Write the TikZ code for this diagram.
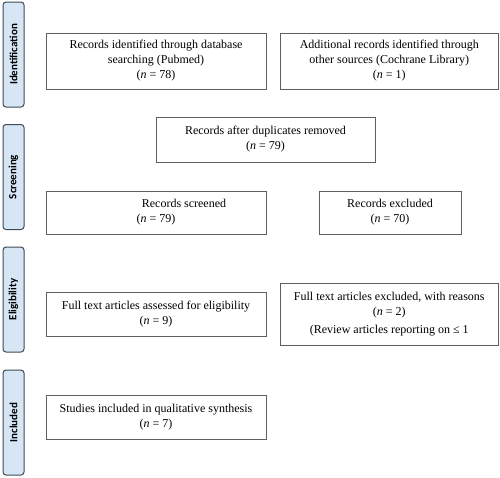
\documentclass[tikz,border=0pt]{standalone}
\usepackage{fontspec}
\setmainfont{Liberation Serif}
\newfontfamily\stagefont{Carlito}
\tikzset{every picture/.style={line width=0.75pt}}
\definecolor{stageblue}{RGB}{214,230,245}
\definecolor{stageline}{RGB}{62,74,88}
\definecolor{boxline}{RGB}{95,95,95}

\begin{document}
\begin{tikzpicture}[x=1pt,y=1pt,yscale=-1,xscale=1,
  box/.style={draw=boxline, line width=0.9pt, align=center, inner sep=0pt, font=\fontsize{12}{15}\selectfont},
  stage/.style={draw=stageline, fill=stageblue, rounded corners=3pt, line width=1pt, inner sep=0pt, minimum width=105pt, minimum height=21pt, rotate=90, font=\stagefont\bfseries\fontsize{11}{13}\selectfont}]
\useasboundingbox (0,0) rectangle (500,477);

%Shape: Stages on the left
\node [stage] (ident) at (13.5,54.5) {Identification};
\node [stage] (screen) at (13.5,177) {Screening};
\node [stage] (elig) at (13.5,299.5) {Eligibility};
\node [stage] (incl) at (13.5,422.5) {Included};

%Shape: Identification boxes
\node [box, minimum width=220pt, minimum height=56pt] (dbsearch) at (156,61) {Records identified through database\\searching (Pubmed)\\(\textit{n} = 78)};
\node [box, minimum width=218.5pt, minimum height=56pt] (othersrc) at (389.25,61) {Additional records identified through\\other sources (Cochrane Library)\\(\textit{n} = 1)};

%Shape: Screening boxes
\node [box, minimum width=219pt, minimum height=45pt] (dupremoved) at (265.5,139.5) {Records after duplicates removed\\(\textit{n} = 79)};
\node [box, minimum width=220pt, minimum height=43pt] (screened) at (156,212.5) {\hspace*{56pt}Records screened\\(\textit{n} = 79)};
\node [box, minimum width=142pt, minimum height=43pt] (excluded) at (390,212.5) {Records excluded\\(\textit{n} = 70)};

%Shape: Eligibility boxes
\node [box, minimum width=220pt, minimum height=44pt] (fulltext) at (156,314) {Full text articles assessed for eligibility\\(\textit{n} = 9)};
\node [box, minimum width=218.5pt, minimum height=62pt] (ftexcluded) at (389.25,314) {Full text articles excluded, with reasons\\(\textit{n} = 2)\\[3pt](Review articles reporting on ≤ 1};

%Shape: Included box
\node [box, minimum width=220pt, minimum height=44pt] (included) at (156,417) {Studies included in qualitative synthesis\\(\textit{n} = 7)};

\end{tikzpicture}
\end{document}
